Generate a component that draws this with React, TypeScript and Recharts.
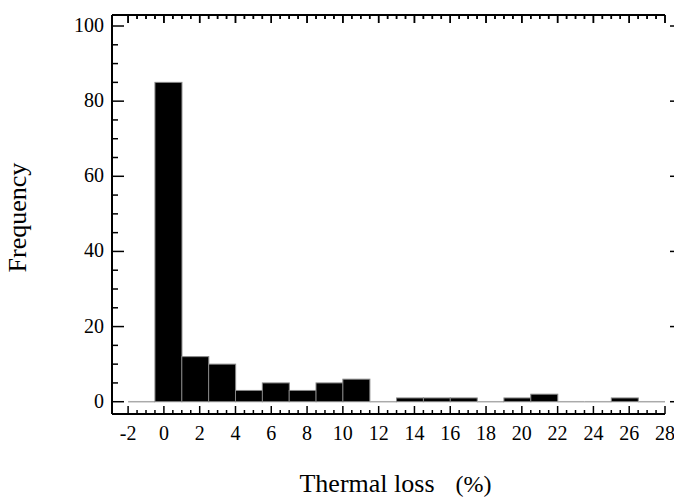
import React from 'react';
import { ComposedChart, Bar, XAxis, YAxis, Label } from 'recharts';

// histogram bins (lower edge, %) and counts, bin width 1.5
const binLow = [-2, -0.5, 1, 2.5, 4, 5.5, 7, 8.5, 10, 11.5, 13, 14.5, 16, 17.5, 19, 20.5, 22, 23.5, 25, 26.5];
const binCount = [0, 85, 12, 10, 3, 5, 3, 5, 6, 0, 1, 1, 1, 0, 1, 2, 0, 0, 1, 0];
const binWidth = 1.5;

const xMajorTicks = [-2, 0, 2, 4, 6, 8, 10, 12, 14, 16, 18, 20, 22, 24, 26, 28];
const yMajorTicks = [0, 20, 40, 60, 80, 100];

const xDomain: [number, number] = [-2.9, 28];
const yDomain: [number, number] = [-3.27, 102.93];

const data = binLow.map((lo, i) => ({ x: lo + binWidth / 2, count: binCount[i] }));

// minor ticks every 0.5 on x, every 5 on y
const xAllTicks: number[] = [];
for (let v = -2; v <= 28.001; v += 0.5) xAllTicks.push(Math.round(v * 10) / 10);
const yAllTicks: number[] = [];
for (let v = 0; v <= 100; v += 5) yAllTicks.push(v);

const W = 674;
const H = 497;
const TOP = 15;
const LEFT_W = 112;
const RIGHT_W = 9;
const BOTTOM_H = 83;

const FONT = '"Liberation Serif", "DejaVu Serif", serif';
const isMajorX = (v: number) => xMajorTicks.includes(v);
const isMajorY = (v: number) => yMajorTicks.includes(v);

const BottomTick = (props: any) => {
  const { x, y, payload } = props;
  const major = isMajorX(payload.value);
  return (
    <g>
      <line x1={x} x2={x} y1={y} y2={y - (major ? 8 : 4)} stroke="#000" strokeWidth={1.5} />
      <line x1={x} x2={x} y1={TOP} y2={TOP + (major ? 8 : 4)} stroke="#000" strokeWidth={1.5} />
      {major && (
        <text x={x} y={y + 26} textAnchor="middle" fontFamily={FONT} fontSize={20} fill="#000">
          {payload.value}
        </text>
      )}
    </g>
  );
};

// ticks hanging from the top frame (same positions as the bottom axis)
const TopFrameTicks = () => {
  const plotW = W - LEFT_W - RIGHT_W;
  const toPx = (v: number) => LEFT_W + ((v - xDomain[0]) / (xDomain[1] - xDomain[0])) * plotW;
  return (
    <g>
      {xAllTicks.map((v) => (
        <line
          key={v}
          x1={toPx(v)}
          x2={toPx(v)}
          y1={TOP}
          y2={TOP + (isMajorX(v) ? 8 : 4)}
          stroke="#000"
          strokeWidth={1.5}
        />
      ))}
    </g>
  );
};

const LeftTick = (props: any) => {
  const { x, y, payload } = props;
  const major = isMajorY(payload.value);
  return (
    <g>
      <line x1={x} x2={x + (major ? 12 : 6)} y1={y} y2={y} stroke="#000" strokeWidth={1.5} />
      {major && (
        <text x={x - 8} y={y + 6} textAnchor="end" fontFamily={FONT} fontSize={20} fill="#000">
          {payload.value}
        </text>
      )}
      {payload.value === 100 && <TopFrameTicks />}
    </g>
  );
};

const RightTick = (props: any) => {
  const { x, y } = props;
  return <line x1={x + 5} x2={x + 12} y1={y} y2={y} stroke="#000" strokeWidth={1.5} />;
};

const HistBar = (props: any) => {
  const { x, y, width, height } = props;
  if (!height || Math.abs(height) < 0.5) {
    return <line x1={x} x2={x + width} y1={y} y2={y} stroke="#aaa" strokeWidth={1.5} />;
  }
  return <rect x={x} y={y} width={width} height={height} fill="#000" stroke="#888" strokeWidth={1} />;
};

export default function App() {
  return (
    <div style={{ position: 'absolute', left: 0, top: 0, width: W, height: H, background: '#fff' }}>
      <ComposedChart
        width={W}
        height={H}
        data={data}
        margin={{ top: 0, right: 0, bottom: 0, left: 0 }}
        barCategoryGap={0}
        barGap={0}
      >
        <XAxis
          xAxisId="b"
          type="number"
          dataKey="x"
          domain={xDomain}
          allowDataOverflow
          ticks={xAllTicks}
          interval={0}
          height={BOTTOM_H}
          tickSize={0}
          tickMargin={0}
          tick={<BottomTick />}
          axisLine={{ stroke: '#000', strokeWidth: 2 }}
        >
          <Label
            content={(p: any) => {
              const vb = p.viewBox;
              return (
                <text
                  x={vb.x + vb.width / 2 + 7}
                  y={vb.y + 78}
                  textAnchor="middle"
                  fontFamily={FONT}
                  fill="#000"
                >
                  <tspan fontSize={26}>Thermal loss</tspan>
                  <tspan fontSize={24} dx={21}>(%)</tspan>
                </text>
              );
            }}
          />
        </XAxis>
        <XAxis
          xAxisId="t"
          orientation="top"
          type="number"
          dataKey="x"
          domain={xDomain}
          allowDataOverflow
          height={TOP}
          tick={false}
          tickLine={false}
          axisLine={{ stroke: '#000', strokeWidth: 2 }}
        />
        <YAxis
          yAxisId="l"
          type="number"
          domain={yDomain}
          allowDataOverflow
          ticks={yAllTicks}
          interval={0}
          width={LEFT_W}
          tickSize={0}
          tickMargin={0}
          tick={<LeftTick />}
          axisLine={{ stroke: '#000', strokeWidth: 2 }}
        >
          <Label
            content={(p: any) => {
              const vb = p.viewBox;
              const cx = vb.x + 26;
              const cy = vb.y + vb.height / 2 + 3;
              return (
                <text
                  x={cx}
                  y={cy}
                  transform={`rotate(-90, ${cx}, ${cy})`}
                  textAnchor="middle"
                  fontFamily={FONT}
                  fontSize={26}
                  fill="#000"
                >
                  Frequency
                </text>
              );
            }}
          />
        </YAxis>
        <YAxis
          yAxisId="r"
          orientation="right"
          type="number"
          domain={yDomain}
          allowDataOverflow
          ticks={yMajorTicks}
          interval={0}
          width={RIGHT_W}
          tickSize={0}
          tickMargin={0}
          tick={<RightTick />}
          axisLine={false}
        />
        <Bar
          xAxisId="b"
          yAxisId="l"
          dataKey="count"
          shape={<HistBar />}
          isAnimationActive={false}
        />
      </ComposedChart>
    </div>
  );
}
